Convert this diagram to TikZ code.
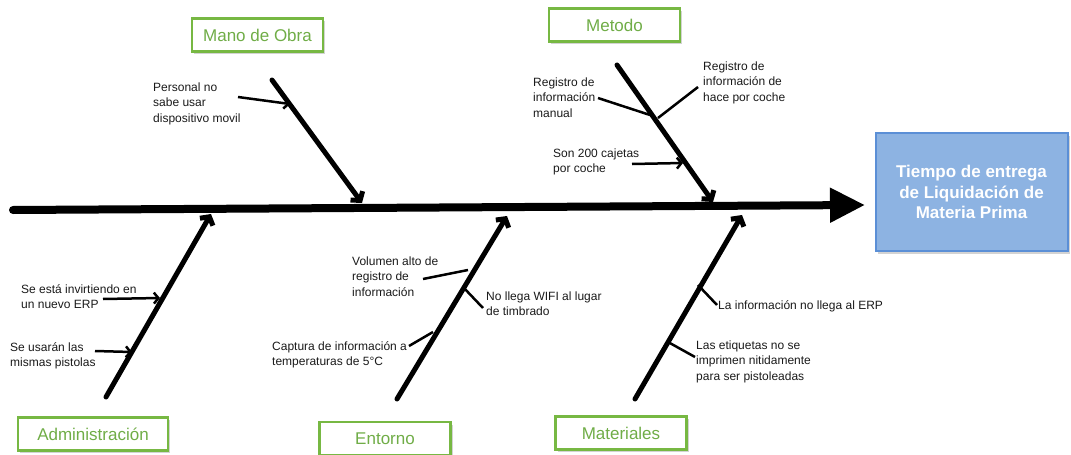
\documentclass[tikz,border=0pt]{standalone}
\usepackage{fontspec}
\setmainfont{Liberation Sans}
\usetikzlibrary{arrows.meta,shadows}
\definecolor{catgreen}{HTML}{77B843}
\definecolor{cattext}{HTML}{70AD47}
\definecolor{effill}{HTML}{8DB3E2}
\definecolor{efdraw}{HTML}{5B8FD6}
\definecolor{notetext}{HTML}{1A1A1A}
\tikzset{
  catbox/.style={draw=catgreen, line width=2.5pt, fill=white, text=cattext,
    font=\fontsize{17}{20}\selectfont, minimum width=131pt, minimum height=33pt,
    inner sep=0pt, drop shadow={shadow xshift=2pt, shadow yshift=-2.5pt, opacity=0.35}},
  effbox/.style={draw=efdraw, line width=2pt, fill=effill, text=white,
    font=\bfseries\fontsize{17}{20.5}\selectfont, align=center,
    minimum width=192pt, minimum height=118pt, inner sep=0pt,
    drop shadow={shadow xshift=2pt, shadow yshift=-3pt, opacity=0.35}},
  note/.style={anchor=north west, inner sep=0pt, align=left, text=notetext,
    font=\fontsize{12}{15.5}\selectfont},
  spine/.style={line width=8pt, line cap=round, -{Triangle[length=35pt,width=33pt]}},
  bone/.style={line width=5pt, line cap=round, -{Straight Barb[length=6pt,width=15pt]}},
  sub/.style={line width=2.5pt},
  subarrow/.style={line width=2.5pt, -{Straight Barb[length=4.5pt,width=11pt]}}
}
\newcommand{\fs}{\rule{0pt}{10pt}}
\begin{document}
\begin{tikzpicture}[x=1pt,y=-1pt]
\useasboundingbox (0,0) rectangle (1071,455);

% effect
\node[effbox] (effect) at (971.5,192) {Tiempo de entrega\\de Liquidación de\\Materia Prima};

% category boxes
\node[catbox] (mob) at (257.5,35) {Mano de Obra};
\node[catbox] (met) at (614.5,25) {Metodo};
\node[catbox, minimum width=150pt] (adm) at (93,434) {Administración};
\node[catbox] (ent) at (385,438.5) {Entorno};
\node[catbox] (mat) at (621,433) {Materiales};

% spine
\coordinate (spL) at (13,210);
\coordinate (spR) at (865,205);
\draw[spine] (spL) -- (spR);

% bones
\coordinate (mobS) at (272,80);  \coordinate (mobE) at (362,203);
\coordinate (metS) at (617,65);  \coordinate (metE) at (713,202);
\coordinate (admS) at (106,397); \coordinate (admE) at (211,214);
\coordinate (entS) at (397,399); \coordinate (entE) at (507,216);
\coordinate (matS) at (635,399); \coordinate (matE) at (742,215);
\draw[bone] (mobS) -- (mobE);
\draw[bone] (metS) -- (metE);
\draw[bone] (admS) -- (admE);
\draw[bone] (entS) -- (entE);
\draw[bone] (matS) -- (matE);

% notes
\node[note] (n1) at (153,81) {\fs Personal no\\sabe usar\\dispositivo movil};
\node[note] (n2) at (533,76) {\fs Registro de\\información\\manual};
\node[note] (n3) at (703,60) {\fs Registro de\\información de\\hace por coche};
\node[note] (n4) at (553,147) {\fs Son 200 cajetas\\por coche};
\node[note] (n5) at (21,283) {\fs Se está invirtiendo en\\un nuevo ERP};
\node[note] (n6) at (10,341) {\fs Se usarán las\\mismas pistolas};
\node[note] (n7) at (352,255) {\fs Volumen alto de\\registro de\\información};
\node[note] (n8) at (486,290) {\fs No llega WIFI al lugar\\de timbrado};
\node[note] (n9) at (272,340) {\fs Captura de información a\\temperaturas de 5°C};
\node[note] (n10) at (718,299) {\fs La información no llega al ERP};
\node[note] (n11) at (696,339) {\fs Las etiquetas no se\\imprimen nitidamente\\para ser pistoleadas};

% sub connectors
\coordinate (c1s) at (238,97);  \coordinate (c1e) at (290,104);
\coordinate (c2s) at (598,98);  \coordinate (c2e) at (650,115);
\coordinate (c3s) at (698,87);  \coordinate (c3e) at (658,118);
\coordinate (c4s) at (632,164); \coordinate (c4e) at (683,163);
\coordinate (c5s) at (103,299); \coordinate (c5e) at (160,298);
\coordinate (c6s) at (95,351);  \coordinate (c6e) at (132,352);
\coordinate (c7s) at (423,279); \coordinate (c7e) at (468,270);
\coordinate (c8s) at (463,287); \coordinate (c8e) at (483,308);
\coordinate (c9s) at (409,346); \coordinate (c9e) at (433,332);
\coordinate (c10s) at (698,285); \coordinate (c10e) at (717,305);
\coordinate (c11s) at (668,342); \coordinate (c11e) at (695,357);
\draw[subarrow] (c1s) -- (c1e);
\draw[sub] (c2s) -- (c2e);
\draw[sub] (c3s) -- (c3e);
\draw[subarrow] (c4s) -- (c4e);
\draw[subarrow] (c5s) -- (c5e);
\draw[subarrow] (c6s) -- (c6e);
\draw[sub] (c7s) -- (c7e);
\draw[sub] (c8s) -- (c8e);
\draw[sub] (c9s) -- (c9e);
\draw[sub] (c10s) -- (c10e);
\draw[sub] (c11s) -- (c11e);
\end{tikzpicture}
\end{document}
